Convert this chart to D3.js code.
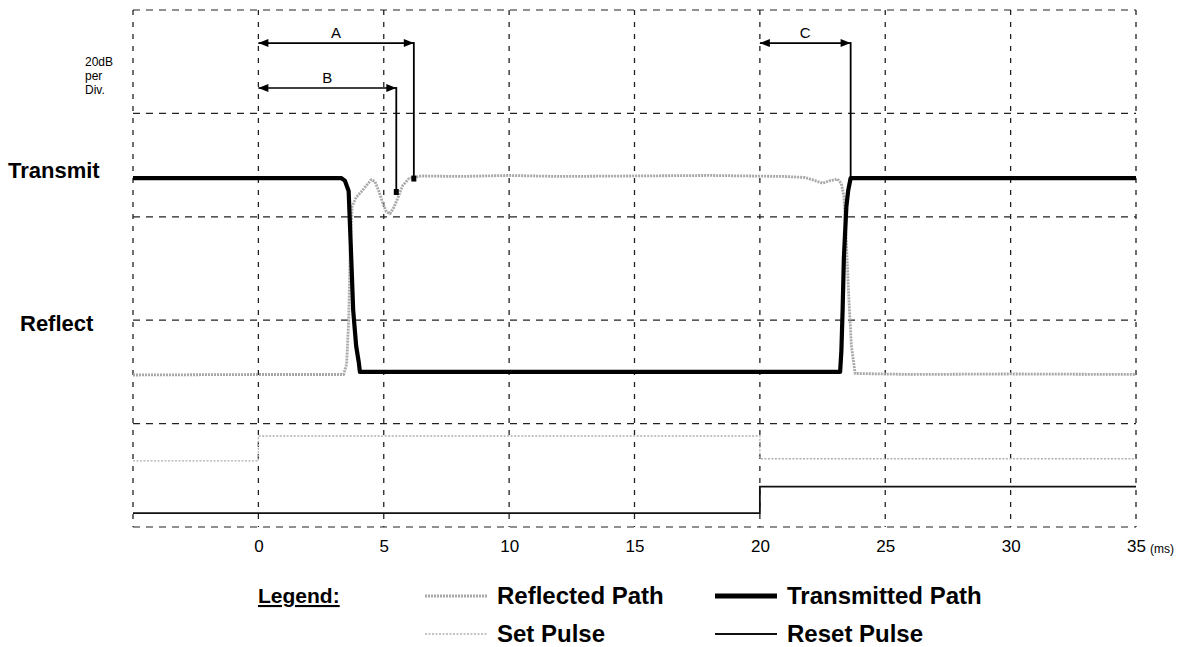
<!DOCTYPE html>
<html>
<head>
<meta charset="utf-8">
<script src="https://cdn.jsdelivr.net/npm/d3@7"></script>
<style>
  html, body { margin: 0; padding: 0; background: #fff; }
  svg { display: block; }
  text { font-family: "Liberation Sans", Arial, sans-serif; fill: #000; }
</style>
</head>
<body>
<svg id="chart" width="1204" height="647"></svg>
<script>
// ---------- data (time in ms, level in dB; 20 dB per division) ----------
const xTickLabels = [0, 5, 10, 15, 20, 25, 30, 35];
const xGrid = [-5, 0, 5, 10, 15, 20, 25, 30, 35];
const yGrid = [-100, -80, -60, -40, -20, 0];

const transmittedPath = [
  [-5, -32.5], [3.3, -32.5], [3.45, -33.0], [3.6, -35], [3.68, -45], [3.78, -58],
  [3.9, -65], [4.0, -68], [4.05, -70], [23.2, -70], [23.25, -66], [23.3, -58],
  [23.35, -48], [23.45, -38], [23.52, -35], [23.62, -32.5], [35, -32.5]
];

const reflectedPath = [
  [-5, -70.6], [0, -70.5], [3.4, -70.5], [3.52, -68.5], [3.6, -60], [3.66, -47],
  [3.74, -38], [3.9, -36.2], [4.1, -35.2], [4.3, -34.0], [4.5, -32.8], [4.65, -33.2],
  [4.8, -35.0], [4.95, -37.2], [5.1, -39.0], [5.25, -39.4], [5.4, -38.2], [5.55, -36.5],
  [5.75, -34.0], [6.0, -32.6], [6.5, -32.1], [8, -32.2], [10, -32.0], [12, -32.2],
  [15, -32.1], [18, -32.0], [21, -32.2], [21.8, -32.4], [22.2, -33.0], [22.5, -33.5],
  [22.8, -33.0], [23.1, -32.7], [23.25, -33.6], [23.35, -36], [23.45, -45], [23.55, -56],
  [23.65, -65], [23.8, -70.3], [26, -70.5], [30, -70.4], [35, -70.5]
];

const setPulse = [[-5, -87.2], [0, -87.2], [0, -82.4], [20, -82.4], [20, -86.8], [35, -86.8]];
const resetPulse = [[-5, -97.3], [20, -97.3], [20, -92.2], [35, -92.2]];

// interval markers: label, start, end, arrow level, end-of-drop level, end marker
const markerLabels = ["A", "B", "C"];
const markerStart = [0, 0, 20];
const markerEnd = [6.2, 5.5, 23.62];
const markerLevel = [-6.4, -15.1, -6.4];
const markerDrop = [-32.6, -35.2, -32.5];
const markerDot = [true, true, false];

const sideLabels = ["Transmit", "Reflect"];
const scaleNote = ["20dB", "per", "Div."];
const legendNames = ["Reflected Path", "Transmitted Path", "Set Pulse", "Reset Pulse"];

// ---------- drawing ----------
const svg = d3.select("#chart");
const x = d3.scaleLinear().domain([-5, 35]).range([133, 1136]);
const y = d3.scaleLinear().domain([-100, 0]).range([527, 10]);

// grid (dashed)
const grid = svg.append("g");
grid.selectAll("line.h").data(yGrid).join("line")
  .attr("x1", x(-5)).attr("x2", x(35))
  .attr("y1", d => y(d)).attr("y2", d => y(d))
  .attr("stroke", "#222").attr("stroke-width", 1.2)
  .attr("stroke-dasharray", "7,6");
grid.selectAll("line.v").data(xGrid).join("line")
  .attr("x1", d => x(d)).attr("x2", d => x(d))
  .attr("y1", y(0)).attr("y2", y(-100))
  .attr("stroke", "#222").attr("stroke-width", 1.3)
  .attr("stroke-dasharray", "5,7");

// x axis labels
const xAxis = d3.axisBottom(x).tickValues(xTickLabels).tickSize(0).tickPadding(0);
const ax = svg.append("g").attr("transform", `translate(0,${y(-100) + 13})`).call(xAxis);
ax.select(".domain").remove();
ax.selectAll("text").attr("font-size", 17).attr("font-family", "Liberation Sans, Arial, sans-serif")
  .attr("fill", "#000").attr("dy", "0.71em");
svg.append("text").attr("x", x(35) + 14).attr("y", y(-100) + 26)
  .attr("font-size", 12).text("(ms)");

const line = d3.line().x(d => x(d[0])).y(d => y(d[1]));

// set pulse (faint dotted grey)
svg.append("path").attr("d", line(setPulse)).attr("fill", "none")
  .attr("stroke", "#b0b0b0").attr("stroke-width", 1.3).attr("stroke-dasharray", "2,1.5");
// reset pulse (thin black)
svg.append("path").attr("d", line(resetPulse)).attr("fill", "none")
  .attr("stroke", "#111").attr("stroke-width", 1.8);
// reflected path (stippled grey)
svg.append("path").attr("d", line(reflectedPath)).attr("fill", "none")
  .attr("stroke", "#a8a8a8").attr("stroke-width", 2.8).attr("stroke-dasharray", "2,1")
  .attr("stroke-linejoin", "round");
// transmitted path (thick black)
svg.append("path").attr("d", line(transmittedPath)).attr("fill", "none")
  .attr("stroke", "#000").attr("stroke-width", 4.2).attr("stroke-linejoin", "round");

// interval markers
const mk = svg.append("g");
markerLabels.forEach((lab, i) => {
  const x0 = x(markerStart[i]), x1 = x(markerEnd[i]), yy = y(markerLevel[i]), yb = y(markerDrop[i]);
  mk.append("line").attr("x1", x0).attr("x2", x1).attr("y1", yy).attr("y2", yy)
    .attr("stroke", "#000").attr("stroke-width", 1.6);
  mk.append("path").attr("d", `M${x0},${yy} L${x0 + 10},${yy - 4} L${x0 + 10},${yy + 4} Z`).attr("fill", "#000");
  mk.append("path").attr("d", `M${x1},${yy} L${x1 - 10},${yy - 4} L${x1 - 10},${yy + 4} Z`).attr("fill", "#000");
  mk.append("line").attr("x1", x1).attr("x2", x1).attr("y1", yy - 1).attr("y2", yb)
    .attr("stroke", "#000").attr("stroke-width", 1.8);
  if (markerDot[i]) {
    mk.append("rect").attr("x", x1 - 2.5).attr("y", yb - 3).attr("width", 5).attr("height", 6).attr("fill", "#000");
  }
  mk.append("text").attr("x", (x0 + x1) / 2).attr("y", yy - 5)
    .attr("text-anchor", "middle").attr("font-size", 15).text(lab);
});

// side labels
svg.append("text").attr("x", 8).attr("y", 178).attr("font-size", 22).attr("font-weight", "bold").text(sideLabels[0]);
svg.append("text").attr("x", 20).attr("y", 331).attr("font-size", 22).attr("font-weight", "bold").text(sideLabels[1]);
scaleNote.forEach((t, i) => {
  svg.append("text").attr("x", 85).attr("y", 66 + i * 14).attr("font-size", 12).text(t);
});

// legend
const lg = svg.append("g");
lg.append("text").attr("x", 258).attr("y", 603).attr("font-size", 21).attr("font-weight", "bold")
  .attr("text-decoration", "underline").text("Legend:");
const lgX = [425, 715, 425, 715];
const lgY = [596, 596, 634, 634];
const lgStyle = [
  { c: "#a8a8a8", w: 2.8, da: "2,1" },
  { c: "#000", w: 5, da: null },
  { c: "#b0b0b0", w: 1.3, da: "2,1.5" },
  { c: "#111", w: 1.8, da: null }
];
legendNames.forEach((n, i) => {
  lg.append("line").attr("x1", lgX[i]).attr("x2", lgX[i] + 62).attr("y1", lgY[i]).attr("y2", lgY[i])
    .attr("stroke", lgStyle[i].c).attr("stroke-width", lgStyle[i].w)
    .attr("stroke-dasharray", lgStyle[i].da);
  lg.append("text").attr("x", lgX[i] + 72).attr("y", lgY[i] + 8).attr("font-size", 24)
    .attr("font-weight", "bold").text(n);
});
</script>
</body>
</html>
